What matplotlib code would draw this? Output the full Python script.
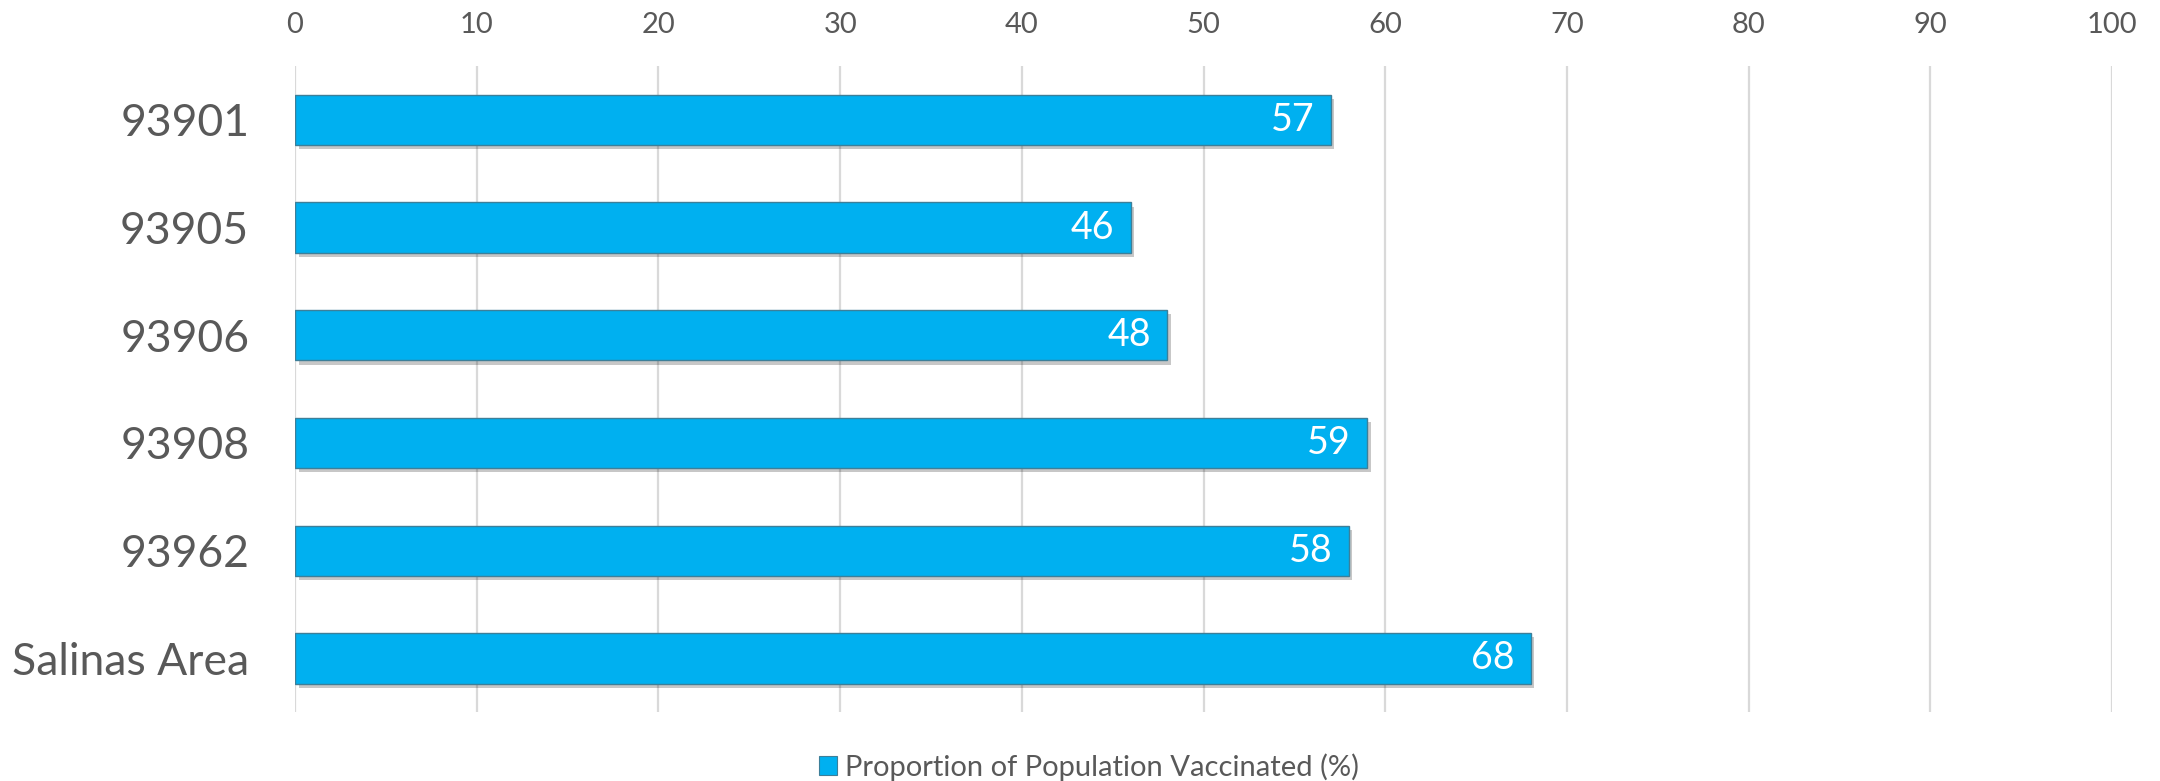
import matplotlib
matplotlib.use("Agg")
import matplotlib.pyplot as plt
import matplotlib.patheffects as pe
from matplotlib.patches import Patch

categories = ["93901", "93905", "93906", "93908", "93962", "Salinas Area"]
values = [57, 46, 48, 59, 58, 68]
xticks = [0, 10, 20, 30, 40, 50, 60, 70, 80, 90, 100]
series_name = "Proportion of Population Vaccinated (%)"

plt.rcParams['font.family'] = ['Lato', 'DejaVu Sans']
grey = '#595959'
bar_color = '#00B0F0'

fig = plt.figure(figsize=(21.6, 7.81), dpi=100)
ax = fig.add_axes([0.1366, 0.0880, 0.8412, 0.8275])

ypos = list(range(len(categories)))
bars = ax.barh(ypos, values, height=0.466, color=bar_color, edgecolor='#3d7f99',
               linewidth=1.0, zorder=3)
for b in bars:
    b.set_path_effects([pe.SimplePatchShadow(offset=(2.5, -3), shadow_rgbFace='black', alpha=0.22),
                        pe.Normal()])

for y, v in zip(ypos, values):
    ax.text(v - 0.9, y, str(v), ha='right', va='center', color='white',
            fontsize=27, zorder=4)

ax.set_xlim(0, 100)
ax.set_ylim(len(categories) - 0.5, -0.5)
ax.set_xticks(xticks)
ax.set_xticklabels([str(t) for t in xticks])
ax.xaxis.tick_top()
ax.tick_params(axis='x', length=0, pad=20, labelsize=21, labelcolor=grey)
ax.set_yticks(ypos)
ax.set_yticklabels(categories)
ax.tick_params(axis='y', length=0, pad=33, labelsize=32, labelcolor=grey)
ax.grid(axis='x', color='#d9d9d9', linewidth=1.6, zorder=0)
ax.set_axisbelow(True)
for s in ax.spines.values():
    s.set_visible(False)

handle = Patch(facecolor=bar_color, edgecolor='#3d7f99', linewidth=0.8)
fig.legend([handle], [series_name], loc='center', bbox_to_anchor=(0.504, 0.018),
           frameon=False, fontsize=21, labelcolor=grey, handlelength=0.65,
           handleheight=0.65, handletextpad=0.25)

fig.savefig("out.png", dpi=100, facecolor='white')
